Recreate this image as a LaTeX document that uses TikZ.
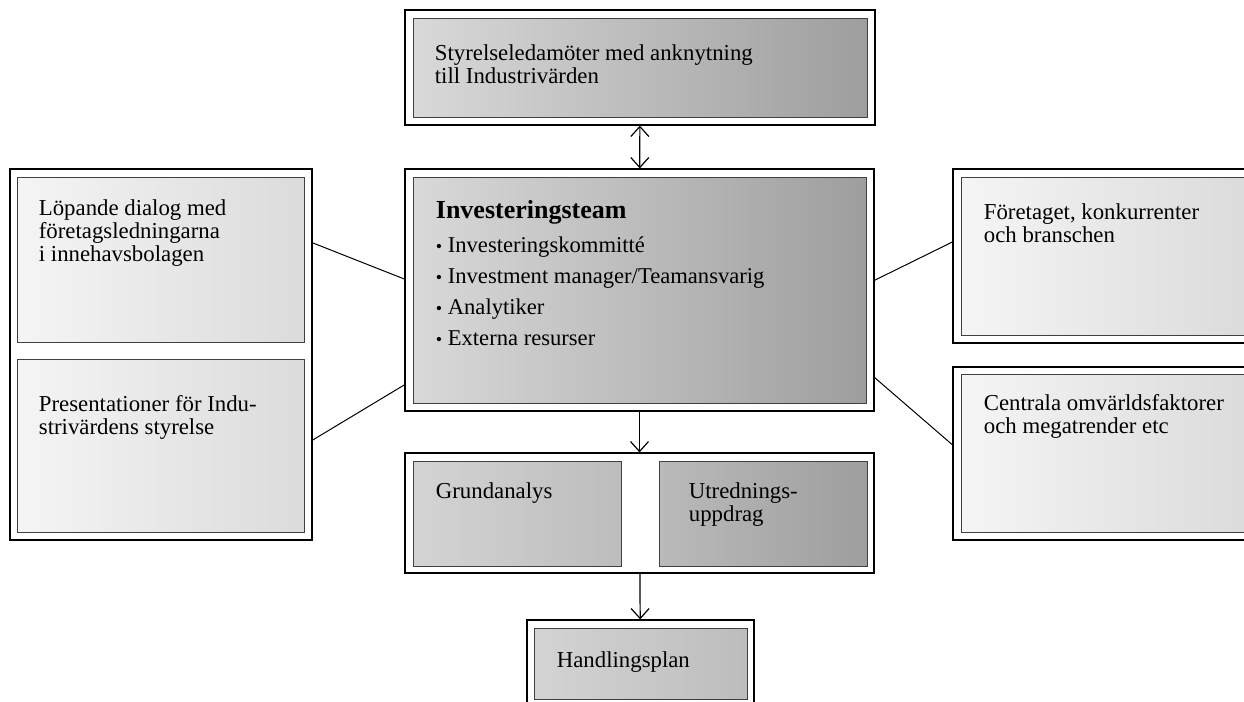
\documentclass[tikz,border=0pt]{standalone}
\usepackage{fontspec}
\setmainfont{Liberation Serif}
\usetikzlibrary{calc,arrows.meta}

\tikzset{
  frame/.style={draw=black, line width=0.6pt, fill=white, inner sep=0pt},
  panel/.style={draw=black!75, line width=0.5pt, inner sep=0pt},
  dark/.style={panel, left color=black!15, right color=black!38},
  mid/.style={panel, left color=black!17, right color=black!26},
  deep/.style={panel, left color=black!27, right color=black!38},
  pale/.style={panel, left color=black!4, right color=black!14},
  txt/.style={anchor=north west, inner sep=0pt, align=left, font=\fontsize{11.4}{11.5}\selectfont},
  link/.style={line width=0.5pt},
  flow/.style={line width=0.6pt, -{Straight Barb[length=5pt,width=9pt]}}
}
\newcommand{\dotitem}{{\small\textbullet}\ }

\begin{document}
\begin{tikzpicture}[x=0.5pt, y=-0.5pt]
\useasboundingbox (0,0) rectangle (1244,702);
\clip (0,0) rectangle (1244,702);

% styrelse
\node[frame, minimum width=235pt, minimum height=57.5pt] (board) at (640,67.5) {};
\node[dark, minimum width=227pt, minimum height=49.5pt] (boardin) at (640,67.5) {};
\node[txt] at ([shift={(11pt,-13.5pt)}]boardin.north west)
  {Styrelseledamöter med anknytning\\till Industrivärden};

% investeringsteam
\node[frame, minimum width=234.5pt, minimum height=121pt] (team) at (639.5,290) {};
\node[dark, minimum width=226.5pt, minimum height=113pt] (teamin) at (639.5,290) {};
\node[txt, font=\fontsize{11.3}{15.5}\selectfont] at ([shift={(11.5pt,-11.6pt)}]teamin.north west)
  {{\fontsize{13}{15.5}\selectfont\bfseries Investeringsteam}\\[1.5pt]
   \dotitem Investeringskommitté\\
   \dotitem Investment manager/Teamansvarig\\
   \dotitem Analytiker\\
   \dotitem Externa resurser};

% vänster
\node[frame, minimum width=151pt, minimum height=185.5pt] (left) at (161,354.5) {};
\node[pale, minimum width=143.5pt, minimum height=82.5pt] (dialog) at (160.5,259.5) {};
\node[txt] at ([shift={(11pt,-11.5pt)}]dialog.north west)
  {Löpande dialog med\\företagsledningarna\\i innehavsbolagen};
\node[pale, minimum width=143.5pt, minimum height=86.5pt] (pres) at (160.5,445.5) {};
\node[txt] at ([shift={(11pt,-18.5pt)}]pres.north west)
  {Presentationer för Indu-\\strivärdens styrelse};

% höger
\node[frame, minimum width=151pt, minimum height=87pt] (firm) at (1104,256) {};
\node[pale, minimum width=143pt, minimum height=79pt] (firmin) at (1104,256) {};
\node[txt] at ([shift={(11.5pt,-13.6pt)}]firmin.north west)
  {Företaget, konkurrenter\\och branschen};
\node[frame, minimum width=151pt, minimum height=86.5pt] (world) at (1104,453.5) {};
\node[pale, minimum width=143pt, minimum height=79pt] (worldin) at (1104,453) {};
\node[txt] at ([shift={(11.5pt,-10.5pt)}]worldin.north west)
  {Centrala omvärldsfaktorer\\och megatrender etc};

% analys
\node[frame, minimum width=234.5pt, minimum height=60pt] (work) at (639.5,513) {};
\node[mid, minimum width=104pt, minimum height=52.5pt] (basic) at (517,513.5) {};
\node[txt] at ([shift={(11.5pt,-10.7pt)}]basic.north west) {Grundanalys};
\node[deep, minimum width=104pt, minimum height=52.5pt] (inquiry) at (763,513.5) {};
\node[txt] at ([shift={(15pt,-10.7pt)}]inquiry.north west) {Utrednings-\\uppdrag};

% handlingsplan
\node[frame, minimum width=113.5pt, minimum height=45pt] (plan) at (640.5,665) {};
\node[mid, minimum width=106.5pt, minimum height=35.5pt] (planin) at (640.5,663.5) {};
\node[txt] at ([shift={(11.5pt,-11.7pt)}]planin.north west) {Handlingsplan};

% pilar
\draw[flow, {Straight Barb[length=5pt,width=9pt]}-{Straight Barb[length=5pt,width=9pt]}] (board) -- (team);
\draw[flow] (team) -- (work);
\draw[flow] (work) -- (plan);

% linjer
\draw[link] ($(left.north east)!0.2!(left.south east)$) -- ($(team.north west)!0.455!(team.south west)$);
\draw[link] ($(left.north east)!0.73!(left.south east)$) -- ($(team.north west)!0.89!(team.south west)$);
\draw[link] ($(team.north east)!0.46!(team.south east)$) -- ($(firm.north west)!0.42!(firm.south west)$);
\draw[link] ($(team.north east)!0.86!(team.south east)$) -- ($(world.north west)!0.45!(world.south west)$);
\end{tikzpicture}
\end{document}
